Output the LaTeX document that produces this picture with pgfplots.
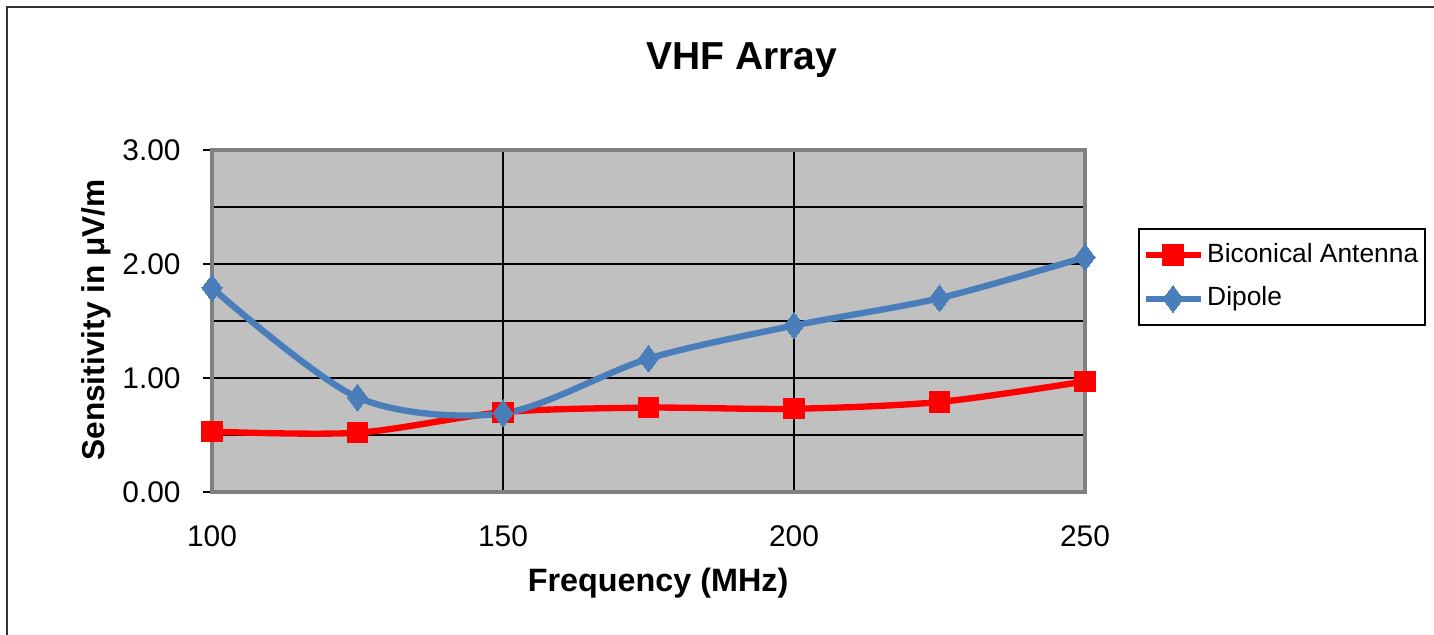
\documentclass[border=0pt]{standalone}
\usepackage{fontspec}
\setmainfont{Liberation Sans}
\usepackage{pgfplots}
\pgfplotsset{compat=1.18}

\definecolor{dipoleblue}{RGB}{74,126,187}
\definecolor{plotgrey}{RGB}{192,192,192}

\begin{document}
\begin{tikzpicture}
\useasboundingbox (0,0) rectangle (14.34,6.35);
\draw[black!80, line width=0.6pt] (0.07,0) -- (0.07,6.28) -- (14.34,6.28);
\begin{axis}[
    at={(2.12cm,1.43cm)}, anchor=south west,
    scale only axis,
    width=8.73cm, height=3.42cm,
    xmin=100, xmax=250,
    ymin=0, ymax=3,
    xtick={100,150,200,250},
    ytick={0,1,2,3},
    minor ytick={0.5,1.5,2.5},
    ymajorgrids, yminorgrids, xmajorgrids,
    major grid style={black, line width=0.5pt},
    minor grid style={black, line width=0.5pt},
    minor tick length=0pt,
    axis background/.style={fill=plotgrey},
    axis line style={black!50, line width=1pt},
    ytick style={black, line width=0.5pt},
    xtick style={draw=none},
    ytick pos=left,
    tick align=outside,
    major tick length=0.09cm,
    ticklabel style={font=\fontsize{8.5}{9}\selectfont},
    xticklabel style={yshift=-0.12cm},
    yticklabel style={xshift=-0.1cm},
    /pgf/number format/assume math mode=true,
    yticklabel style={/pgf/number format/.cd, fixed, fixed zerofill, precision=2},
    title={\textbf{VHF Array}},
    title style={at={(0.607,1.202)}, anchor=center, yshift=0pt, font=\fontsize{11.1}{13}\selectfont},
    xlabel={\textbf{Frequency (MHz)}},
    xlabel style={at={(0.511,-0.266)}, anchor=center, font=\fontsize{9.2}{11}\selectfont},
    ylabel={\textbf{Sensitivity in μV/m}},
    ylabel style={at={(-0.133,0.503)}, anchor=center, font=\fontsize{9.0}{11}\selectfont},
    legend style={at={(1.0607,0.6287)}, anchor=west, draw=black, line width=0.5pt,
        font=\fontsize{7.5}{9}\selectfont, row sep=1.5pt,
        inner xsep=1pt, inner ysep=2pt,
        nodes={inner xsep=1pt}},
    legend image code/.code={%
        \draw[mark repeat=2,mark phase=2,#1] plot coordinates {(0cm,0cm) (0.275cm,0cm) (0.55cm,0cm)};},
    legend cell align=left,
]
\addplot[red, line width=1.8pt, smooth, tension=0.5, mark=square*, mark size=2.9pt,
    mark options={solid, line width=0pt}]
    coordinates {(100,0.53) (125,0.52) (150,0.70) (175,0.74) (200,0.73) (225,0.79) (250,0.97)};
\addlegendentry{Biconical Antenna}
\addplot[dipoleblue, line width=1.8pt, smooth, tension=0.5, mark=diamond*, mark size=3.8pt,
    mark options={solid, line width=0pt}]
    coordinates {(100,1.79) (125,0.83) (150,0.69) (175,1.17) (200,1.46) (225,1.70) (250,2.06)};
\addlegendentry{Dipole}
\end{axis}
\end{tikzpicture}
\end{document}
